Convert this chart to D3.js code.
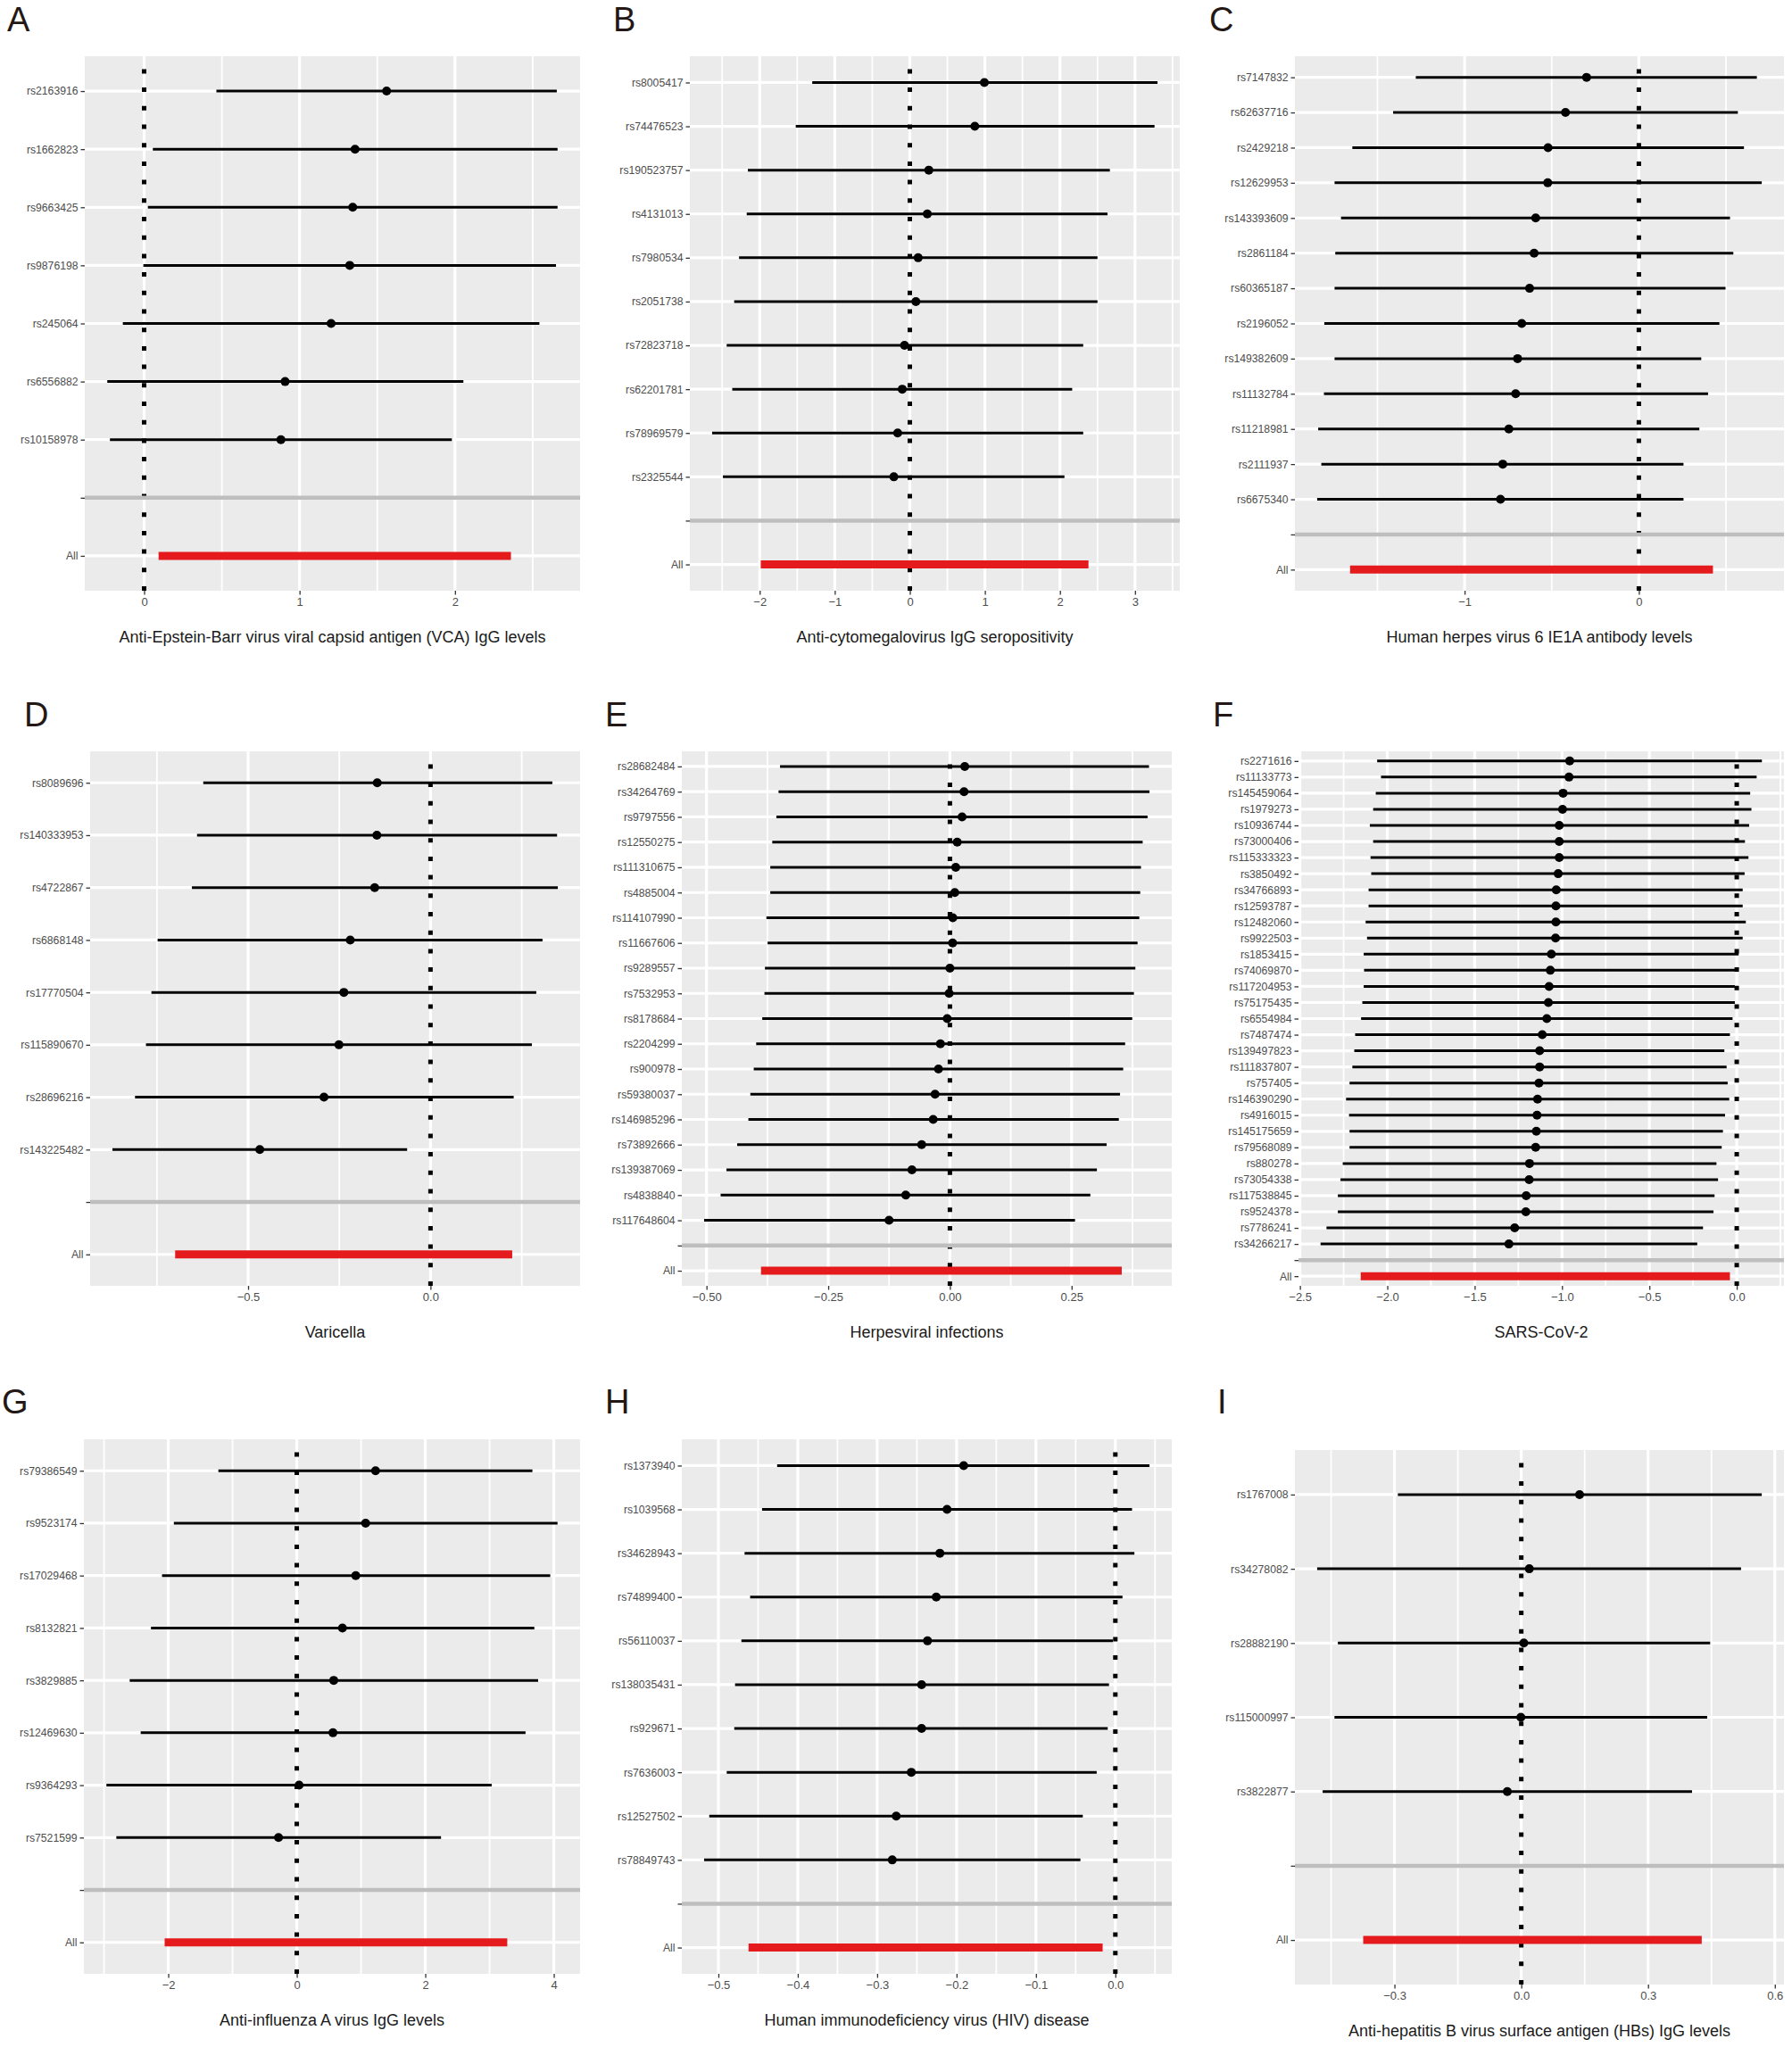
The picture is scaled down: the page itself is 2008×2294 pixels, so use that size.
<!DOCTYPE html>
<html>
<head>
<meta charset="utf-8">
<script src="https://cdn.jsdelivr.net/npm/d3@7"></script>
<style>
  body { margin: 0; background: #fff; }
  svg text { font-family: "Liberation Sans", Arial, Helvetica, sans-serif; }
</style>
</head>
<body>
<svg id="fig" width="2008" height="2294"></svg>
<script>
// ---- data (effect estimates with 95% CI, one set per panel) ----
var snpsA = ["rs2163916","rs1662823","rs9663425","rs9876198","rs245064","rs6556882","rs10158978"];
var estA = [1.56,1.357,1.342,1.323,1.203,0.907,0.88];
var loA = [0.465,0.056,0.024,-0.005,-0.137,-0.237,-0.22];
var hiA = [2.655,2.66,2.66,2.65,2.543,2.054,1.98];
var allA = [0.093,2.36];
var ticksA = [0,1,2];

var snpsB = ["rs8005417","rs74476523","rs190523757","rs4131013","rs7980534","rs2051738","rs72823718","rs62201781","rs78969579","rs2325544"];
var estB = [0.993,0.866,0.253,0.233,0.111,0.081,-0.071,-0.101,-0.162,-0.213];
var loB = [-1.30,-1.52,-2.158,-2.173,-2.275,-2.34,-2.44,-2.366,-2.634,-2.49];
var hiB = [3.30,3.26,2.665,2.634,2.50,2.50,2.31,2.163,2.31,2.06];
var allB = [-1.986,2.38];
var ticksB = [-2,-1,0,1,2,3];

var snpsC = ["rs7147832","rs62637716","rs2429218","rs12629953","rs143393609","rs2861184","rs60365187","rs2196052","rs149382609","rs11132784","rs11218981","rs2111937","rs6675340"];
var estC = [-0.30,-0.421,-0.521,-0.523,-0.592,-0.601,-0.627,-0.672,-0.696,-0.707,-0.746,-0.781,-0.794];
var loC = [-1.28,-1.41,-1.644,-1.746,-1.709,-1.742,-1.746,-1.805,-1.746,-1.807,-1.84,-1.822,-1.846];
var hiC = [0.677,0.568,0.603,0.705,0.523,0.542,0.497,0.462,0.358,0.397,0.347,0.256,0.256];
var allC = [-1.657,0.425];
var ticksC = [-1,0];

var snpsD = ["rs8089696","rs140333953","rs4722867","rs6868148","rs17770504","rs115890670","rs28696216","rs143225482"];
var estD = [-0.146,-0.147,-0.153,-0.22,-0.2375,-0.251,-0.292,-0.468];
var loD = [-0.623,-0.64,-0.654,-0.748,-0.765,-0.78,-0.81,-0.872];
var hiD = [0.334,0.347,0.349,0.307,0.29,0.278,0.228,-0.064];
var allD = [-0.70,0.224];
var ticksD = [-0.5,0];

var snpsE = ["rs28682484","rs34264769","rs9797556","rs12550275","rs111310675","rs4885004","rs114107990","rs11667606","rs9289557","rs7532953","rs8178684","rs2204299","rs900978","rs59380037","rs146985296","rs73892666","rs139387069","rs4838840","rs117648604"];
var estE = [0.0305,0.029,0.025,0.015,0.012,0.010,0.006,0.0055,0,-0.0016,-0.0055,-0.0195,-0.0235,-0.0305,-0.0344,-0.058,-0.078,-0.0907,-0.125];
var loE = [-0.349,-0.352,-0.3565,-0.365,-0.369,-0.369,-0.377,-0.3745,-0.38,-0.381,-0.3855,-0.398,-0.403,-0.41,-0.414,-0.437,-0.459,-0.471,-0.505];
var hiE = [0.409,0.41,0.406,0.396,0.3925,0.391,0.389,0.3855,0.381,0.378,0.3745,0.36,0.356,0.3495,0.347,0.322,0.302,0.2885,0.257];
var allE = [-0.388,0.353];
var ticksE = [-0.5,-0.25,0,0.25];

var snpsF = ["rs2271616","rs11133773","rs145459064","rs1979273","rs10936744","rs73000406","rs115333323","rs3850492","rs34766893","rs12593787","rs12482060","rs9922503","rs1853415","rs74069870","rs117204953","rs75175435","rs6554984","rs7487474","rs139497823","rs111837807","rs757405","rs146390290","rs4916015","rs145175659","rs79568089","rs880278","rs73054338","rs117538845","rs9524378","rs7786241","rs34266217"];
var estF = [-0.956,-0.960,-0.994,-0.997,-1.016,-1.016,-1.016,-1.022,-1.033,-1.035,-1.035,-1.037,-1.061,-1.067,-1.074,-1.078,-1.087,-1.113,-1.128,-1.128,-1.132,-1.14,-1.143,-1.147,-1.151,-1.186,-1.188,-1.205,-1.207,-1.271,-1.304];
var loF = [-2.058,-2.036,-2.066,-2.081,-2.10,-2.081,-2.096,-2.092,-2.107,-2.107,-2.124,-2.116,-2.135,-2.133,-2.135,-2.143,-2.15,-2.184,-2.189,-2.20,-2.216,-2.236,-2.219,-2.216,-2.216,-2.255,-2.268,-2.283,-2.283,-2.348,-2.382];
var hiF = [0.144,0.114,0.077,0.084,0.071,0.047,0.067,0.045,0.034,0.034,0.052,0.034,0.011,-0.004,-0.011,-0.011,-0.024,-0.039,-0.071,-0.058,-0.052,-0.043,-0.067,-0.079,-0.086,-0.116,-0.107,-0.127,-0.133,-0.193,-0.226];
var allF = [-2.152,-0.039];
var ticksF = [-2.5,-2,-1.5,-1,-0.5,0];

var snpsG = ["rs79386549","rs9523174","rs17029468","rs8132821","rs3829885","rs12469630","rs9364293","rs7521599"];
var estG = [1.226,1.072,0.918,0.711,0.575,0.563,0.036,-0.284];
var loG = [-1.22,-1.913,-2.097,-2.269,-2.60,-2.429,-2.962,-2.808];
var hiG = [3.667,4.058,3.945,3.697,3.756,3.56,3.033,2.245];
var allG = [-2.056,3.276];
var ticksG = [-2,0,2,4];

var snpsH = ["rs1373940","rs1039568","rs34628943","rs74899400","rs56110037","rs138035431","rs929671","rs7636003","rs12527502","rs78849743"];
var estH = [-0.191,-0.212,-0.221,-0.2256,-0.2366,-0.244,-0.244,-0.257,-0.276,-0.281];
var loH = [-0.426,-0.445,-0.467,-0.46,-0.471,-0.479,-0.48,-0.4895,-0.5115,-0.518];
var hiH = [0.043,0.021,0.024,0.009,-0.003,-0.008,-0.0096,-0.0235,-0.041,-0.044];
var allH = [-0.462,-0.016];
var ticksH = [-0.5,-0.4,-0.3,-0.2,-0.1,0];

var snpsI = ["rs1767008","rs34278082","rs28882190","rs115000997","rs3822877"];
var estI = [0.138,0.019,0.006,-0.001,-0.033];
var loI = [-0.292,-0.483,-0.434,-0.442,-0.47];
var hiI = [0.569,0.52,0.447,0.44,0.404];
var allI = [-0.374,0.427];
var ticksI = [-0.3,0,0.3,0.6];

var titles = [
  "Anti-Epstein-Barr virus viral capsid antigen (VCA) IgG levels",
  "Anti-cytomegalovirus IgG seropositivity",
  "Human herpes virus 6 IE1A antibody levels",
  "Varicella",
  "Herpesviral infections",
  "SARS-CoV-2",
  "Anti-influenza A virus IgG levels",
  "Human immunodeficiency virus (HIV) disease",
  "Anti-hepatitis B virus surface antigen (HBs) IgG levels"
];
var letters = ["A","B","C","D","E","F","G","H","I"];

// ---- layout (pixels) ----
var boxes = [
  { left: 95,  right: 650,  top: 63,   bottom: 662,  lx: 8,    ly: 35,   fmt: "d" },
  { left: 773, right: 1322, top: 63,   bottom: 662,  lx: 687,  ly: 35,   fmt: "d" },
  { left: 1451,right: 1999, top: 63,   bottom: 662,  lx: 1355, ly: 35,   fmt: "d" },
  { left: 101, right: 650,  top: 842,  bottom: 1441, lx: 27,   ly: 814,  fmt: ".1f" },
  { left: 764, right: 1313, top: 842,  bottom: 1441, lx: 678,  ly: 814,  fmt: ".2f" },
  { left: 1455,right: 1999, top: 842,  bottom: 1441, lx: 1359, ly: 814,  fmt: ".1f" },
  { left: 94,  right: 650,  top: 1613, bottom: 2212, lx: 2,    ly: 1584, fmt: "d" },
  { left: 764, right: 1313, top: 1613, bottom: 2212, lx: 678,  ly: 1584, fmt: ".1f" },
  { left: 1451,right: 1999, top: 1625, bottom: 2224, lx: 1364, ly: 1584, fmt: ".1f" }
];

var panels = [
  [snpsA, estA, loA, hiA, allA, ticksA],
  [snpsB, estB, loB, hiB, allB, ticksB],
  [snpsC, estC, loC, hiC, allC, ticksC],
  [snpsD, estD, loD, hiD, allD, ticksD],
  [snpsE, estE, loE, hiE, allE, ticksE],
  [snpsF, estF, loF, hiF, allF, ticksF],
  [snpsG, estG, loG, hiG, allG, ticksG],
  [snpsH, estH, loH, hiH, allH, ticksH],
  [snpsI, estI, loI, hiI, allI, ticksI]
].map(function (p, i) {
  return {
    rows: p[0].map(function (s, j) { return { snp: s, est: p[1][j], lo: p[2][j], hi: p[3][j] }; }),
    all: p[4], ticks: p[5], title: titles[i], letter: letters[i], box: boxes[i]
  };
});

var svg = d3.select("#fig");

panels.forEach(drawPanel);

function drawPanel(p) {
  var b = p.box;
  var g = svg.append("g");

  var cats = p.rows.map(function (d) { return d.snp; }).concat(["sep", "All"]);
  var y = d3.scalePoint().domain(cats).range([b.top, b.bottom]).padding(0.6);

  var vals = d3.merge([p.rows.map(function (d) { return d.lo; }), p.rows.map(function (d) { return d.hi; }), p.all]);
  var ext = d3.extent(vals), pad = (ext[1] - ext[0]) * 0.05;
  var x = d3.scaleLinear().domain([ext[0] - pad, ext[1] + pad]).range([b.left, b.right]);
  var dom = x.domain();

  // panel background
  g.append("rect")
    .attr("x", b.left).attr("y", b.top)
    .attr("width", b.right - b.left).attr("height", b.bottom - b.top)
    .attr("fill", "#EBEBEB");

  // minor grid halfway between the breaks
  var step = p.ticks[1] - p.ticks[0];
  var start = p.ticks[0] - step / 2;
  while (start - step >= dom[0]) start -= step;
  var minor = [];
  for (var k = 0; start + k * step <= dom[1] + 1e-9; k++) {
    var v = +(start + k * step).toFixed(6);
    if (v >= dom[0]) minor.push(v);
  }
  g.selectAll(".minor").data(minor).enter().append("line")
    .attr("x1", x).attr("x2", x)
    .attr("y1", b.top).attr("y2", b.bottom)
    .attr("stroke", "#fff").attr("stroke-width", 1.8);

  g.selectAll(".vmajor").data(p.ticks).enter().append("line")
    .attr("x1", x).attr("x2", x)
    .attr("y1", b.top).attr("y2", b.bottom)
    .attr("stroke", "#fff").attr("stroke-width", 3.2);

  g.selectAll(".hmajor").data(cats).enter().append("line")
    .attr("x1", b.left).attr("x2", b.right)
    .attr("y1", y).attr("y2", y)
    .attr("stroke", "#fff").attr("stroke-width", 3.2);

  // null line
  g.append("line")
    .attr("x1", x(0)).attr("x2", x(0))
    .attr("y1", b.bottom).attr("y2", b.top)
    .attr("stroke", "#000").attr("stroke-width", 5)
    .attr("stroke-dasharray", "5 15.7");

  // separator before the pooled estimate
  g.append("line")
    .attr("x1", b.left).attr("x2", b.right)
    .attr("y1", y("sep")).attr("y2", y("sep"))
    .attr("stroke", "#BEBEBE").attr("stroke-width", 4.5);

  // per-SNP intervals and estimates
  g.selectAll(".ci").data(p.rows).enter().append("line")
    .attr("x1", function (d) { return x(d.lo); })
    .attr("x2", function (d) { return x(d.hi); })
    .attr("y1", function (d) { return y(d.snp); })
    .attr("y2", function (d) { return y(d.snp); })
    .attr("stroke", "#000").attr("stroke-width", 3);

  g.selectAll(".pt").data(p.rows).enter().append("circle")
    .attr("cx", function (d) { return x(d.est); })
    .attr("cy", function (d) { return y(d.snp); })
    .attr("r", 5).attr("fill", "#000");

  // pooled interval
  g.append("line")
    .attr("x1", x(p.all[0])).attr("x2", x(p.all[1]))
    .attr("y1", y("All")).attr("y2", y("All"))
    .attr("stroke", "#E41A1C").attr("stroke-width", 9);

  // axes
  var ya = g.append("g")
    .attr("transform", "translate(" + b.left + ",0)")
    .call(d3.axisLeft(y).tickSize(4.5).tickPadding(3)
      .tickFormat(function (d) { return d === "sep" ? "" : d; }));
  ya.select(".domain").remove();
  ya.selectAll("line").attr("stroke", "#333").attr("stroke-width", 1.3);
  ya.selectAll("text").attr("fill", "#4D4D4D").style("font-size", "12.2px");

  var xa = g.append("g")
    .attr("transform", "translate(0," + b.bottom + ")")
    .call(d3.axisBottom(x).tickValues(p.ticks).tickSize(4.5).tickPadding(3)
      .tickFormat(d3.format(b.fmt)));
  xa.select(".domain").remove();
  xa.selectAll("line").attr("stroke", "#333").attr("stroke-width", 1.3);
  xa.selectAll("text").attr("fill", "#4D4D4D").style("font-size", "13px");

  // x title and panel letter
  g.append("text")
    .attr("x", (b.left + b.right) / 2).attr("y", b.bottom + 58)
    .attr("text-anchor", "middle")
    .style("font-size", "18px").attr("fill", "#1a1a1a")
    .text(p.title);

  g.append("text")
    .attr("x", b.lx).attr("y", b.ly)
    .style("font-size", "38px").attr("fill", "#231815")
    .text(p.letter);
}
</script>
</body>
</html>
